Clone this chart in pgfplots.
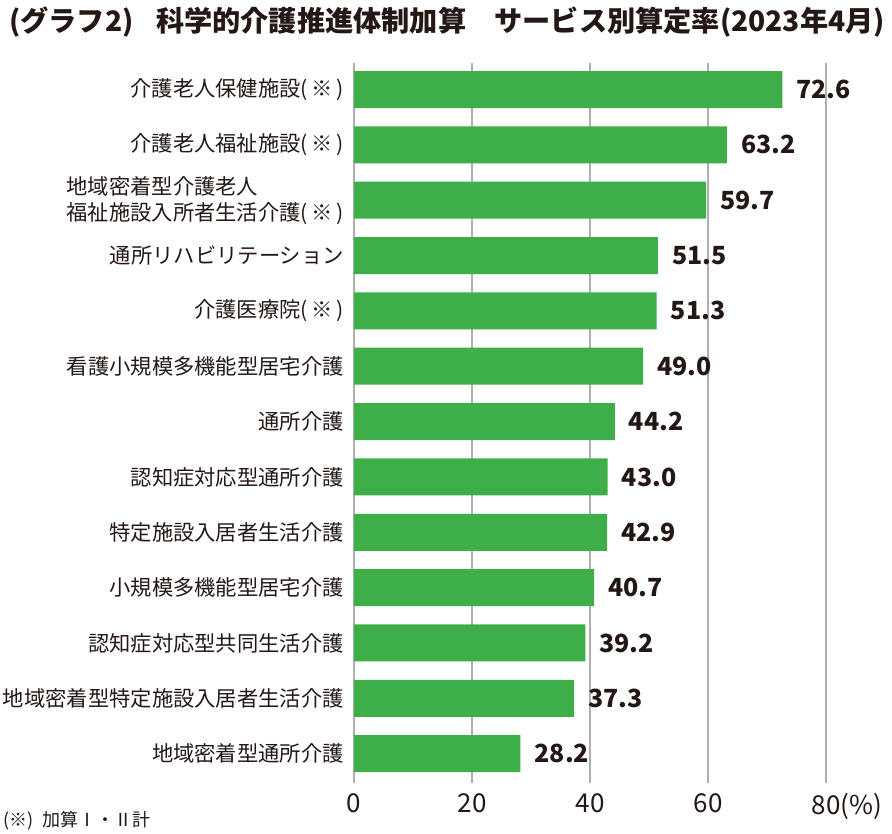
\documentclass[border=0pt]{standalone}
\usepackage{fontspec}
\setmainfont{Noto Sans CJK JP}
\usepackage{pgfplots}
\pgfplotsset{compat=1.18}
\definecolor{bargreen}{HTML}{3EAF48}
\definecolor{gridgray}{HTML}{AFAFAF}
\definecolor{txt}{HTML}{231815}
\newcommand{\kome}{(\hspace{0.17em}※\hspace{0.17em})}
\begin{document}
\begin{tikzpicture}
\path[use as bounding box] (0,0) rectangle (892pt,834pt);
\node[anchor=west, inner sep=0pt, text=txt, font=\bfseries\fontsize{28.2}{30}\selectfont] at (9pt,812pt)
  {(グラフ2)\hspace{0.8em}科学的介護推進体制加算\hspace{1.0em}サービス別算定率(2023年4月)};
\node[anchor=west, inner sep=0pt, text=txt, font=\fontsize{18}{20}\selectfont] at (3pt,13pt)
  {(※)\hspace{0.5em}加算Ⅰ・Ⅱ計};
\begin{axis}[
  at={(354pt,51pt)}, anchor=south west,
  width=472pt, height=720pt, scale only axis,
  xmin=0, xmax=80, ymin=-0.479, ymax=12.53,
  y dir=reverse,
  enlargelimits=false,
  xbar, bar width=37pt,
  xtick={0,20,40,60,80},
  xticklabels={0,20,40,60,80\rlap{(\%)}},
  ytick={0,...,12},
  yticklabels={
    介護老人保健施設\kome,
    介護老人福祉施設\kome,
    地域密着型介護老人\\福祉施設入所者生活介護\kome,
    通所リハビリテーション,
    介護医療院\kome,
    看護小規模多機能型居宅介護,
    通所介護,
    認知症対応型通所介護,
    特定施設入居者生活介護,
    小規模多機能型居宅介護,
    認知症対応型共同生活介護,
    地域密着型特定施設入居者生活介護,
    地域密着型通所介護},
  xmajorgrids,
  grid style={draw=gridgray, line width=1.5pt},
  axis line style={draw=none},
  major tick length=0pt,
  /pgf/number format/assume math mode=true,
  xticklabel style={anchor=north, inner sep=0pt, yshift=-10pt, text=txt, font=\fontsize{26}{28}\selectfont},
  yticklabel style={anchor=east, inner sep=0pt, xshift=-10pt, align=left, text=txt, font=\fontsize{21.3}{26}\selectfont},
  point meta=x,
  nodes near coords={\pgfmathprintnumber[fixed,fixed zerofill,precision=1]{\pgfplotspointmeta}},
  every node near coord/.append style={anchor=west, inner sep=0pt, xshift=14pt, text=txt, font=\bfseries\fontsize{25}{27}\selectfont},
]
\addplot[fill=bargreen, draw=none] coordinates {
  (72.6,0) (63.2,1) (59.7,2) (51.5,3) (51.3,4) (49.0,5) (44.2,6)
  (43.0,7) (42.9,8) (40.7,9) (39.2,10) (37.3,11) (28.2,12)
};
\end{axis}
\end{tikzpicture}
\end{document}
